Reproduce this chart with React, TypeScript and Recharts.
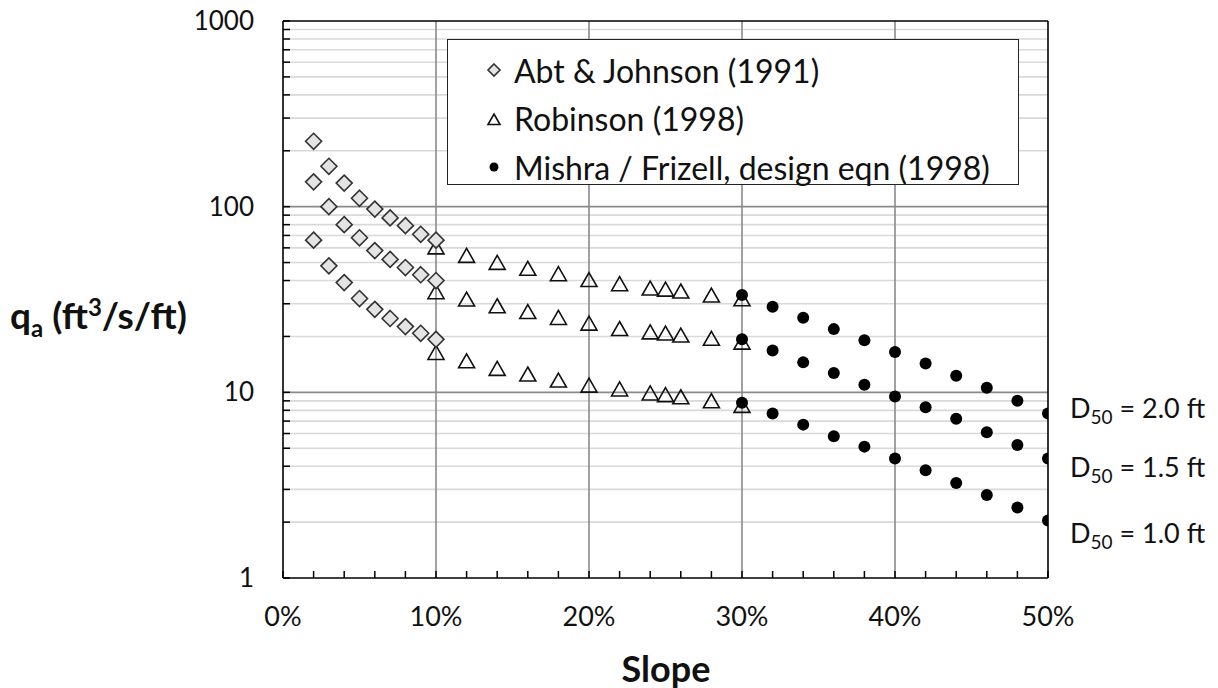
import React from "react";
import {
  ScatterChart,
  Scatter,
  XAxis,
  YAxis,
  ReferenceLine,
  Legend,
} from "recharts";

// slopes in percent
const abtSlopes = [2, 3, 4, 5, 6, 7, 8, 9, 10];
const abtD20 = [225, 165, 134, 111, 97, 87, 79, 71, 66];
const abtD15 = [136, 100, 80, 68, 58, 52, 47, 43, 40];
const abtD10 = [66, 48, 39, 32, 28, 25, 22.6, 20.8, 19.3];

const robSlopes = [10, 12, 14, 16, 18, 20, 22, 24, 25, 26, 28, 30];
const robD20 = [60, 54, 49.5, 46, 43, 40, 38, 36, 35.5, 34.7, 33, 31.5];
const robD15 = [34.4, 31.4, 28.9, 26.9, 25, 23.3, 21.8, 20.9, 20.6, 20.1, 19.3, 18.4];
const robD10 = [16.2, 14.6, 13.3, 12.4, 11.5, 10.8, 10.3, 9.8, 9.6, 9.35, 8.9, 8.4];

const mishSlopes = [30, 32, 34, 36, 38, 40, 42, 44, 46, 48, 50];
const mishD20 = [33.4, 28.9, 25.2, 21.9, 19.1, 16.5, 14.3, 12.3, 10.6, 9.0, 7.7];
const mishD15 = [19.3, 16.8, 14.5, 12.7, 11.0, 9.5, 8.3, 7.2, 6.1, 5.2, 4.4];
const mishD10 = [8.8, 7.7, 6.7, 5.8, 5.1, 4.4, 3.8, 3.25, 2.8, 2.4, 2.04];

const seriesNames = [
  "Abt & Johnson (1991)",
  "Robinson (1998)",
  "Mishra / Frizell, design eqn (1998)",
];
const d50Labels = ["2.0", "1.5", "1.0"];

const xTicks = [0, 2, 4, 6, 8, 10, 12, 14, 16, 18, 20, 22, 24, 26, 28, 30, 32, 34, 36, 38, 40, 42, 44, 46, 48, 50];
const xMajor = [10, 20, 30, 40];
const yMajor = [1, 10, 100, 1000];
const yMinor = [2, 3, 4, 5, 6, 7, 8, 9, 20, 30, 40, 50, 60, 70, 80, 90, 200, 300, 400, 500, 600, 700, 800, 900];
const yTicks = [...yMajor, ...yMinor].sort((a, b) => a - b);

const toPoints = (xs: number[], ...rows: number[][]) =>
  rows.flatMap((row) => row.map((y, i) => ({ x: xs[i], y })));

const abtData = toPoints(abtSlopes, abtD20, abtD15, abtD10);
const robData = toPoints(robSlopes, robD20, robD15, robD10);
const mishData = toPoints(mishSlopes, mishD20, mishD15, mishD10);

const FONT = "Lato, 'Open Sans', sans-serif";

const Diamond = ({ cx, cy, r = 8 }: any) => (
  <polygon
    points={`${cx},${cy - r} ${cx + r},${cy} ${cx},${cy + r} ${cx - r},${cy}`}
    fill="#e4e4e4"
    stroke="#333"
    strokeWidth={1.6}
  />
);

const Triangle = ({ cx, cy, r = 8 }: any) => (
  <polygon
    points={`${cx},${cy - r} ${cx + r},${cy + r * 0.75} ${cx - r},${cy + r * 0.75}`}
    fill="#fff"
    fillOpacity={0}
    stroke="#111"
    strokeWidth={1.6}
  />
);

const Dot = ({ cx, cy, r = 6 }: any) => <circle cx={cx} cy={cy} r={r} fill="#000" />;

const YTick = (props: any) => {
  const { x, y, payload } = props;
  const ax = x + 8;
  const v = payload.value;
  return (
    <g>
      <line x1={ax} x2={ax + 7} y1={y} y2={y} stroke="#000" strokeWidth={1.5} />
      {yMajor.includes(v) && (
        <text x={ax - 29} y={y} dy="0.35em" textAnchor="end" fontSize={26} fontFamily={FONT} fill="#111">
          {v}
        </text>
      )}
    </g>
  );
};

const XTick = (props: any) => {
  const { x, y, payload } = props;
  const ay = y - 8;
  const v = payload.value;
  return (
    <g>
      <line x1={x} x2={x} y1={ay} y2={ay - 7} stroke="#000" strokeWidth={1.5} />
      {v % 10 === 0 && (
        <text x={x} y={ay + 39} dy="0.35em" textAnchor="middle" fontSize={27} fontFamily={FONT} fill="#111">
          {`${v}%`}
        </text>
      )}
    </g>
  );
};

const LegendBox = (props: any) => {
  const icons: Record<string, React.ReactNode> = {
    [seriesNames[0]]: <Diamond cx={10} cy={12} r={6} />,
    [seriesNames[1]]: <Triangle cx={10} cy={13} r={6} />,
    [seriesNames[2]]: <Dot cx={10} cy={12} r={4.5} />,
  };
  const items = [...(props.payload || [])].sort(
    (a: any, b: any) => seriesNames.indexOf(a.value) - seriesNames.indexOf(b.value)
  );
  return (
    <div
      style={{
        border: "1.5px solid #222",
        background: "#fff",
        width: 572,
        height: 146,
        boxSizing: "border-box",
        paddingTop: 6,
        fontFamily: FONT,
      }}
    >
      {items.map((entry: any) => (
        <div key={entry.value} style={{ display: "flex", alignItems: "center", height: 48.5 }}>
          <svg width={20} height={24} style={{ marginLeft: 36, marginRight: 10 }}>
            {icons[entry.value]}
          </svg>
          <span style={{ fontSize: 32, color: "#111" }}>{entry.value}</span>
        </div>
      ))}
    </div>
  );
};

export default function App() {
  return (
    <div style={{ position: "absolute", left: 0, top: 0, width: 1218, height: 688, background: "#fff" }}>
      <ScatterChart width={1218} height={688} margin={{ top: 21, right: 170, bottom: 0, left: 0 }}>
        {yMinor.map((v) => (
          <ReferenceLine key={`m${v}`} y={v} stroke="#d9d9d9" strokeWidth={1.6} />
        ))}
        {[10, 100].map((v) => (
          <ReferenceLine key={`M${v}`} y={v} stroke="#8a8a8a" strokeWidth={1.6} />
        ))}
        {xMajor.map((v) => (
          <ReferenceLine key={`x${v}`} x={v} stroke="#8a8a8a" strokeWidth={1.6} />
        ))}
        <ReferenceLine y={1000} stroke="#000" strokeWidth={1.6} />
        <ReferenceLine x={50} stroke="#000" strokeWidth={1.6} />
        <XAxis
          type="number"
          dataKey="x"
          domain={[0, 50]}
          ticks={xTicks}
          interval={0}
          height={110}
          tickSize={0}
          tickMargin={8}
          tickLine={false}
          axisLine={{ stroke: "#000", strokeWidth: 1.6 }}
          tick={<XTick />}
          allowDataOverflow
        />
        <YAxis
          type="number"
          dataKey="y"
          scale="log"
          domain={[1, 1000]}
          ticks={yTicks}
          interval={0}
          width={283}
          tickSize={0}
          tickMargin={8}
          tickLine={false}
          axisLine={{ stroke: "#000", strokeWidth: 1.6 }}
          tick={<YTick />}
          allowDataOverflow
        />
        <Legend
          layout="vertical"
          align="center"
          verticalAlign="middle"
          content={<LegendBox />}
          wrapperStyle={{ left: 447, top: 39, width: 572, height: 146 }}
        />
        <Scatter name={seriesNames[1]} data={robData} shape={<Triangle />} fill="#fff" isAnimationActive={false} />
        <Scatter name={seriesNames[0]} data={abtData} shape={<Diamond />} fill="#e4e4e4" isAnimationActive={false} />
        <Scatter name={seriesNames[2]} data={mishData} shape={<Dot />} fill="#000" isAnimationActive={false} />
      </ScatterChart>

      {d50Labels.map((d, i) => (
        <div
          key={d}
          style={{
            position: "absolute",
            left: 1070,
            top: [408, 467, 533][i] - 17,
            fontFamily: FONT,
            fontSize: 27,
            color: "#111",
            whiteSpace: "nowrap",
            lineHeight: "34px",
          }}
        >
          D<sub style={{ fontSize: 19, verticalAlign: -6 }}>50</sub> = {d} ft
        </div>
      ))}

      <div
        style={{
          position: "absolute",
          left: 10,
          top: 307 - 22,
          fontFamily: FONT,
          fontWeight: 700,
          fontSize: 37,
          color: "#111",
          whiteSpace: "nowrap",
          lineHeight: "44px",
        }}
      >
        q<sub style={{ fontSize: 24, verticalAlign: -8 }}>a</sub> (ft<sup style={{ fontSize: 24, verticalAlign: 13 }}>3</sup>/s/ft)
      </div>

      <div
        style={{
          position: "absolute",
          left: 566,
          width: 200,
          top: 668 - 22,
          textAlign: "center",
          fontFamily: FONT,
          fontWeight: 700,
          fontSize: 36,
          color: "#111",
          lineHeight: "44px",
        }}
      >
        Slope
      </div>
    </div>
  );
}
